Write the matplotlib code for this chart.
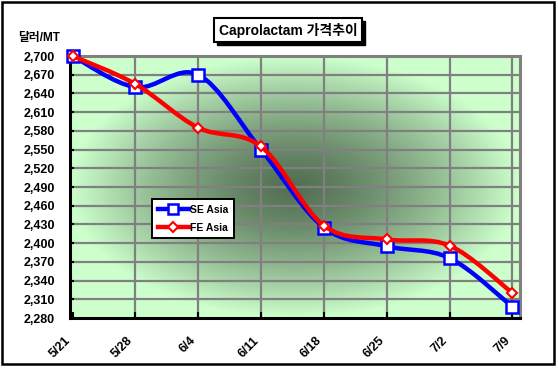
import numpy as np
import matplotlib
matplotlib.use("Agg")
import matplotlib.pyplot as plt
from matplotlib.path import Path
from matplotlib.patches import PathPatch, Rectangle
from matplotlib.lines import Line2D

plt.rcParams['font.family'] = ['Liberation Sans', 'Noto Sans CJK KR', 'DejaVu Sans']

dates = ['5/21', '5/28', '6/4', '6/11', '6/18', '6/25', '7/2', '7/9']
se_asia = [2700, 2650, 2670, 2550, 2425, 2395, 2376, 2298]
fe_asia = [2700, 2655, 2585, 2555, 2428, 2406, 2396, 2320]
yticks = list(range(2280, 2701, 30))

W, H = 558, 369
fig = plt.figure(figsize=(W / 100, H / 100), dpi=100)
ax = fig.add_axes([70 / W, 1 - 318 / H, 450 / W, 262 / H])

ax.set_xlim(-0.04, 7.12)
ax.set_ylim(2280, 2700)

# radial gradient background
ny, nx = 200, 300
xx, yy = np.meshgrid(np.linspace(-1, 1, nx), np.linspace(-1, 1, ny))
r = np.clip(np.sqrt(xx ** 2 + yy ** 2) / 1.0, 0, 1)
t = r ** 1.4
dark = np.array([84, 112, 84]) / 255
light = np.array([204, 255, 204]) / 255
img = dark[None, None, :] * (1 - t[..., None]) + light[None, None, :] * t[..., None]
ax.imshow(img, extent=[0, 1, 0, 1], transform=ax.transAxes, aspect='auto', zorder=0, interpolation='bilinear')

# grid
for yv in yticks[1:]:
    ax.axhline(yv, color='#808080', lw=1.6, zorder=1)
for i in range(1, len(dates)):
    ax.axvline(i, color='#808080', lw=1.6, zorder=1)


def smooth_path(xs, ys):
    xs = np.asarray(xs, float)
    ys = np.asarray(ys, float)
    n = len(xs)
    verts = [(xs[0], ys[0])]
    codes = [Path.MOVETO]
    for i in range(n - 1):
        p0 = (xs[max(i - 1, 0)], ys[max(i - 1, 0)])
        p1 = (xs[i], ys[i])
        p2 = (xs[i + 1], ys[i + 1])
        p3 = (xs[min(i + 2, n - 1)], ys[min(i + 2, n - 1)])
        c1 = (p1[0] + (p2[0] - p0[0]) / 6, p1[1] + (p2[1] - p0[1]) / 6)
        c2 = (p2[0] - (p3[0] - p1[0]) / 6, p2[1] - (p3[1] - p1[1]) / 6)
        verts += [c1, c2, p2]
        codes += [Path.CURVE4] * 3
    return Path(verts, codes)


xs = np.arange(len(dates))
ax.add_patch(PathPatch(smooth_path(xs, se_asia), fill=False, edgecolor='#0000ff', lw=3.2, zorder=3, clip_on=False))
ax.plot(xs, se_asia, ls='none', marker='s', ms=8, mfc='white', mec='#0000ff', mew=1.8, zorder=4, clip_on=False)
ax.add_patch(PathPatch(smooth_path(xs, fe_asia), fill=False, edgecolor='#ff0000', lw=3.2, zorder=5, clip_on=False))
ax.plot(xs, fe_asia, ls='none', marker='D', ms=5.5, mfc='white', mec='#ff0000', mew=1.5, zorder=6, clip_on=False)

ax.set_xticks(xs)
ax.set_xticklabels(dates, rotation=45, ha='right', va='top', fontsize=9, fontweight='bold')
ax.set_yticks(yticks)
ax.set_yticklabels([f"{v:,}" for v in yticks], fontsize=9, fontweight='bold')
ax.tick_params(axis='x', direction='in', length=4, width=1.5, pad=12, color='black')
ax.tick_params(axis='y', direction='in', length=3, width=1.5, pad=11, color='black')

for s in ['left', 'bottom']:
    ax.spines[s].set_color('black')
    ax.spines[s].set_linewidth(2.2)
for s in ['top', 'right']:
    ax.spines[s].set_color('#808080')
    ax.spines[s].set_linewidth(2.2)

# legend
handles = [
    Line2D([], [], color='#0000ff', lw=3.2, marker='s', ms=7, mfc='white', mec='#0000ff', mew=1.8),
    Line2D([], [], color='#ff0000', lw=3.2, marker='D', ms=5, mfc='white', mec='#ff0000', mew=1.5),
]
leg = fig.legend(handles, ['SE Asia', 'FE Asia'], loc='upper left',
                 bbox_to_anchor=(152 / W, 1 - 199 / H), frameon=True, fancybox=False,
                 framealpha=1, facecolor='white', shadow=False,
                 prop={'weight': 'bold', 'size': 7.5}, handlelength=3.0, handletextpad=0.1,
                 borderpad=0.55, labelspacing=0.75, borderaxespad=0)
leg.get_frame().set_edgecolor('black')
leg.get_frame().set_linewidth(1.4)
leg.set_zorder(10)

# title box with shadow
fig.patches.append(Rectangle((217 / W, 1 - 45 / H), 148 / W, 24 / H, transform=fig.transFigure,
                             facecolor='black', edgecolor='black', zorder=1))
fig.patches.append(Rectangle((214 / W, 1 - 42 / H), 148 / W, 24 / H, transform=fig.transFigure,
                             facecolor='white', edgecolor='black', lw=1.5, zorder=2))
fig.text(288 / W, 1 - 30 / H, 'Caprolactam 가격추이', ha='center', va='center', fontsize=10,
         fontweight='bold', zorder=3)

fig.text(18 / W, 1 - 38 / H, '달러/MT', ha='left', va='center', fontsize=8.5, fontweight='bold')

# outer frame
fig.patches.append(Rectangle((2 / W, 1 - 364 / H), 552 / W, 362 / H, transform=fig.transFigure,
                             facecolor='none', edgecolor='black', lw=1.8, zorder=0))

fig.savefig('out.png', dpi=100)
